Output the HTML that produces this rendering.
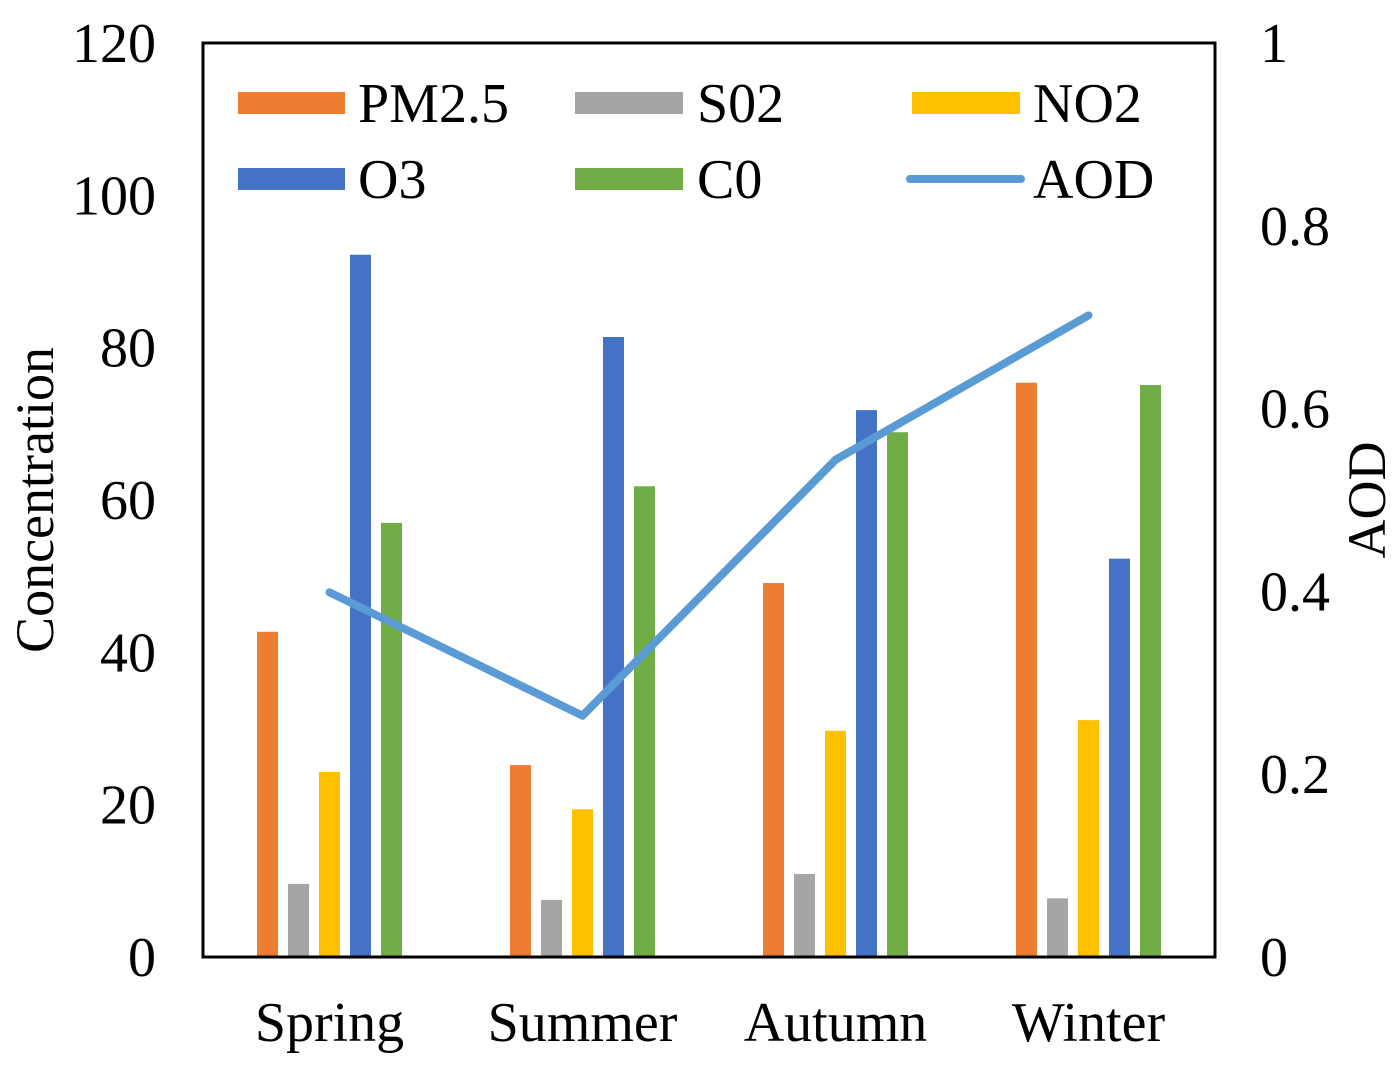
<!DOCTYPE html>
<html><head><meta charset="utf-8"><style>
html,body{margin:0;padding:0;background:#fff;}
svg{display:block;font-family:"Liberation Serif",serif;}
</style></head><body>
<svg id="chart" width="1396" height="1077" viewBox="0 0 1396 1077" xmlns="http://www.w3.org/2000/svg">
<g id="bars"></g>
<g id="line"></g>
<rect x="203" y="43" width="1012" height="914" fill="none" stroke="#000" stroke-width="3"/>
<g id="axes"></g>
<text x="0" y="0" transform="translate(53,500) rotate(-90)" font-size="54" text-anchor="middle">Concentration</text>
<text x="0" y="0" transform="translate(1385,500) rotate(-90)" font-size="54" text-anchor="middle">AOD</text>
<g>
<g><rect x="238" y="92" width="107" height="22" fill="#ED7D31"/><text x="358" y="122" font-size="56">PM2.5</text></g>
<g><rect x="575" y="92" width="108" height="22" fill="#A5A5A5"/><text x="697" y="122" font-size="56">S02</text></g>
<g><rect x="912" y="92" width="108" height="22" fill="#FFC000"/><text x="1033" y="122" font-size="56">NO2</text></g>
<g><rect x="238" y="168" width="107" height="22" fill="#4472C4"/><text x="358" y="198" font-size="56">O3</text></g>
<g><rect x="575" y="168" width="108" height="22" fill="#70AD47"/><text x="697" y="198" font-size="56">C0</text></g>
<g><line x1="910" y1="179" x2="1021" y2="179" stroke="#5B9BD5" stroke-width="8" stroke-linecap="round"/><text x="1033" y="198" font-size="56">AOD</text></g>
</g>
</svg>
<script>
const categories = ["Spring","Summer","Autumn","Winter"];
const seriesNames = ["PM2.5","S02","NO2","O3","C0"];
const pm25 = [42.7, 25.2, 49.1, 75.4];
const so2 = [9.6, 7.5, 10.9, 7.7];
const no2 = [24.3, 19.4, 29.7, 31.1];
const o3 = [92.2, 81.4, 71.8, 52.3];
const co = [57.0, 61.8, 68.9, 75.1];
const aod = [0.399, 0.264, 0.544, 0.702];
const leftTicks = [0,20,40,60,80,100,120];
const rightTicks = ["0","0.2","0.4","0.6","0.8","1"];

const NS="http://www.w3.org/2000/svg";
const X0=203, X1=1215, Y0=957, Y1=43;
const colors=["#ED7D31","#A5A5A5","#FFC000","#4472C4","#70AD47"];
const series=[pm25,so2,no2,o3,co];
function yL(v){return Y0-(v/120)*(Y0-Y1);}
function yR(v){return Y0-(v/1)*(Y0-Y1);}
function xC(i){const w=(X1-X0)/categories.length;return X0+w*(i+0.5);}
function mk(tag,attrs,parent){const e=document.createElementNS(NS,tag);for(const k in attrs)e.setAttribute(k,attrs[k]);parent.appendChild(e);return e;}
const bars=document.getElementById('bars');
const step=31, bw=21;
series.forEach((s,si)=>{
  s.forEach((v,ci)=>{
    const x=xC(ci)+(si-2)*step-bw/2;
    const r=mk('rect',{x:x,y:yL(v),width:bw,height:Y0-yL(v),fill:colors[si]},bars);
    
    
  });
});
const lg=document.getElementById('line');
const pts=aod.map((v,i)=>xC(i)+','+yR(v)).join(' ');
const pl=mk('polyline',{points:pts,fill:'none',stroke:'#5B9BD5','stroke-width':8,'stroke-linejoin':'round','stroke-linecap':'round'},lg);


const ax=document.getElementById('axes');
leftTicks.forEach(v=>{
  const t=mk('text',{x:156,y:yL(v)+19,'font-size':56,'text-anchor':'end'},ax);
  t.textContent=v;
  
  
});
rightTicks.forEach(v=>{
  const t=mk('text',{x:1260,y:yR(parseFloat(v))+19,'font-size':56,'text-anchor':'start'},ax);
  t.textContent=v;
  
  
});
categories.forEach((c,i)=>{
  const t=mk('text',{x:xC(i),y:1041,'font-size':56,'text-anchor':'middle'},ax);
  t.textContent=c;
  
  
});
</script>
</body></html>
